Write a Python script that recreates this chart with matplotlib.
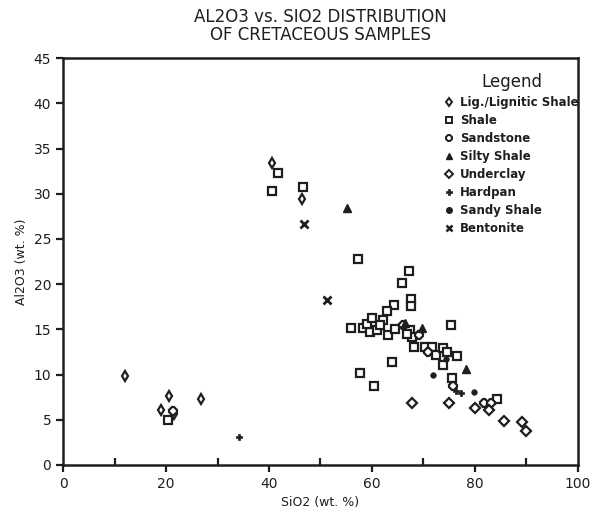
import matplotlib
matplotlib.use("Agg")
import matplotlib.pyplot as plt
from matplotlib.lines import Line2D

# ---- data (SiO2 wt.%, Al2O3 wt.%) ----
lig_x = [12.0, 19.0, 20.6, 21.6, 26.8, 40.6, 46.4]
lig_y = [9.8, 6.1, 7.6, 5.6, 7.3, 33.4, 29.4]

shale_x = [20.4, 40.6, 41.8, 46.6, 57.2, 67.2, 65.9, 67.6, 67.6, 64.3, 62.9, 62.1,
           55.9, 58.3, 59.6, 60.9, 61.5, 63.1, 64.5, 67.4, 67.8, 66.8, 75.3, 68.2,
           70.3, 71.6, 72.4, 73.8, 74.6, 76.6, 73.8, 63.8, 57.7, 60.3, 75.5, 84.2,
           59.0, 60.0]
shale_y = [5.0, 30.3, 32.3, 30.8, 22.8, 21.5, 20.1, 18.4, 17.6, 17.7, 17.0, 16.0,
           15.1, 15.2, 14.7, 14.9, 15.5, 14.4, 15.0, 14.9, 14.1, 14.5, 15.5, 13.0,
           13.1, 13.0, 12.2, 12.9, 12.5, 12.0, 11.0, 11.4, 10.2, 8.7, 9.6, 7.3,
           15.6, 16.3]

sand_x = [21.4, 69.1, 70.8, 75.7, 81.7, 83.2, 66.0]
sand_y = [6.0, 14.4, 12.5, 8.7, 6.9, 6.8, 15.5]

silty_x = [55.1, 66.4, 69.8, 78.3]
silty_y = [28.4, 15.7, 15.2, 10.6]

under_x = [67.8, 75.0, 80.0, 82.7, 85.6, 89.2, 90.0]
under_y = [6.8, 6.8, 6.3, 6.1, 4.9, 4.7, 3.8]

hard_x = [34.2, 76.3, 77.2]
hard_y = [3.1, 8.2, 8.0]

sandy_x = [71.9, 79.9, 74.3]
sandy_y = [10.0, 8.1, 11.7]

bent_x = [46.8, 51.3]
bent_y = [26.7, 18.3]

labels = ["Lig./Lignitic Shale", "Shale", "Sandstone", "Silty Shale",
          "Underclay", "Hardpan", "Sandy Shale", "Bentonite"]

INK = "#1e1e1e"
fig = plt.figure(figsize=(6.03, 5.2), dpi=100)
ax = fig.add_axes([0.1045, 0.106, 0.854, 0.782])

k = dict(color=INK, linestyle="none")
ax.plot(lig_x, lig_y, marker="d", ms=5.5, mfc="white", mew=1.6, **k)
ax.plot(shale_x, shale_y, marker="s", ms=5.5, mfc="white", mew=1.6, **k)
ax.plot(sand_x, sand_y, marker="8", ms=5.5, mfc="white", mew=1.6, **k)
ax.plot(silty_x, silty_y, marker="^", ms=5.5, mfc=INK, mew=1.0, **k)
ax.plot(under_x, under_y, marker="D", ms=5.5, mfc="white", mew=1.6, **k)
ax.plot(hard_x, hard_y, marker="P", ms=4.5, mfc=INK, mew=0.5, **k)
ax.plot(sandy_x, sandy_y, marker="o", ms=4, mfc=INK, mew=0.5, **k)
ax.plot(bent_x, bent_y, marker="x", ms=6, mew=2.0, **k)

ax.set_xlim(0, 100)
ax.set_ylim(0, 45)
ax.set_xticks(range(0, 101, 20))
ax.set_xticks(range(10, 100, 20), minor=True)
ax.set_yticks(range(0, 46, 5))
ax.tick_params(axis="x", which="major", direction="out", length=5, width=1.6,
               labelsize=10, colors=INK)
ax.tick_params(axis="x", which="minor", direction="in", length=5, width=1.6, colors=INK)
ax.tick_params(axis="y", direction="out", length=5, width=1.6, labelsize=10, colors=INK)
for s in ax.spines.values():
    s.set_linewidth(1.8)
    s.set_color(INK)

ax.set_xlabel("SiO2 (wt. %)", fontsize=9, color=INK)
ax.set_ylabel("Al2O3 (wt. %)", fontsize=9, color=INK)
fig.text(0.531, 0.985, "AL2O3 vs. SIO2 DISTRIBUTION\nOF CRETACEOUS SAMPLES",
         ha="center", va="top", fontsize=12, linespacing=1.0, color=INK)

handles = [
    Line2D([], [], marker="d", ms=4.5, mfc="white", mew=1.4, **k),
    Line2D([], [], marker="s", ms=4.5, mfc="white", mew=1.4, **k),
    Line2D([], [], marker="8", ms=4.5, mfc="white", mew=1.4, **k),
    Line2D([], [], marker="^", ms=4.5, mfc=INK, **k),
    Line2D([], [], marker="D", ms=4.5, mfc="white", mew=1.4, **k),
    Line2D([], [], marker="P", ms=4.5, mfc=INK, mew=0.5, **k),
    Line2D([], [], marker="o", ms=4, mfc=INK, **k),
    Line2D([], [], marker="x", ms=5, mew=1.8, **k),
]
leg = ax.legend(handles, labels, loc="upper right", bbox_to_anchor=(1.015, 0.98),
                frameon=False, title="Legend",
                prop=dict(size=8.5, weight="bold"), title_fontsize=12,
                handlelength=0.8, handletextpad=0.5, labelspacing=0.42,
                borderaxespad=0.2)
for t in leg.get_texts():
    t.set_color(INK)
leg.get_title().set_color(INK)

fig.savefig("out.png", dpi=100)
